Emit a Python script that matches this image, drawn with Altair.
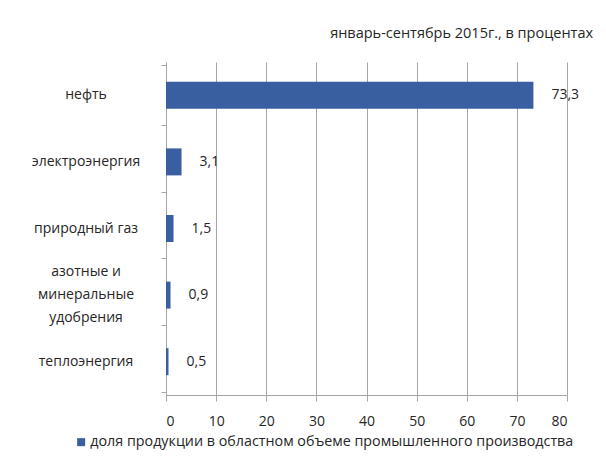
import altair as alt
import pandas as pd

categories = ["нефть", "электроэнергия", "природный газ", "азотные и|минеральные|удобрения", "теплоэнергия"]
values = [73.3, 3.1, 1.5, 0.9, 0.5]
series_name = "доля продукции в областном объеме промышленного производства"
title_text = "январь-сентябрь 2015г., в процентах"
x_ticks = [0, 10, 20, 30, 40, 50, 60, 70, 80]

df = pd.DataFrame({"cat": categories, "value": values, "series": [series_name] * len(values)})

FONT = "Open Sans"
TXT = "#262626"
GRID = "#a6a6a6"
BAR = "#3a5fa0"
LINE_H = 23

base = alt.Chart(df).transform_calculate(
    lab="replace(format(datum.value, '.1f'), '.', ',')",
    nlines="length(split(datum.cat, '|'))",
)

bars = base.mark_bar(color=BAR, size=27).encode(
    x=alt.X("value:Q", scale=alt.Scale(domain=[0, 80], nice=False),
            axis=alt.Axis(values=x_ticks, title=None, grid=True, gridColor=GRID,
                          domainColor=GRID, tickColor=GRID, tickSize=6,
                          labelPadding=13, labelFontSize=14, labelColor=TXT,
                          labelFont=FONT)),
    y=alt.Y("cat:N", sort=categories, title=None,
            axis=alt.Axis(tickBand="extent", tickColor=GRID, tickSize=5,
                          domainColor=GRID, labels=False)),
    color=alt.Color("series:N", scale=alt.Scale(range=[BAR]),
                    legend=alt.Legend(title=None, orient="none", legendX=-92, legendY=373,
                                      padding=0, labelOffset=2,
                                      symbolType="square", symbolSize=64,
                                      labelFontSize=14.3, labelColor=TXT, labelFont=FONT,
                                      labelLimit=600, symbolStrokeWidth=0)),
)

labels = base.mark_text(align="left", baseline="middle", dx=18, fontSize=14,
                        color=TXT, font=FONT).encode(
    x="value:Q",
    y=alt.Y("cat:N", sort=categories),
    text="lab:N",
)

single = base.transform_filter("datum.nlines == 1").mark_text(
    align="center", baseline="middle", fontSize=14, color=TXT, font=FONT
).encode(
    x=alt.value(-80),
    y=alt.Y("cat:N", sort=categories),
    text="cat:N",
)

multi = base.transform_filter("datum.nlines == 3").mark_text(
    align="center", baseline="middle", fontSize=14, color=TXT, font=FONT,
    lineBreak="|", lineHeight=LINE_H, dy=-LINE_H,
).encode(
    x=alt.value(-80),
    y=alt.Y("cat:N", sort=categories),
    text="cat:N",
)

chart = alt.layer(bars, labels, single, multi).properties(
    width=401, height=333,
    title=alt.TitleParams(title_text, anchor="end", fontSize=14.5, font=FONT,
                          color=TXT, fontWeight="normal", dx=14, offset=21),
    autosize=alt.AutoSizeParams(type="none"),
    padding={"left": 158, "top": 54, "right": 31, "bottom": 58},
).configure_view(stroke=None)

chart.save("out.html", embed_options={"renderer": "svg", "actions": False})
